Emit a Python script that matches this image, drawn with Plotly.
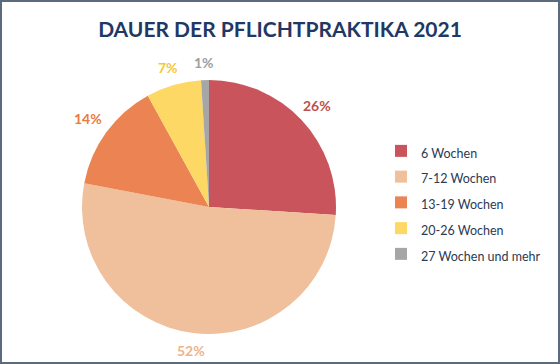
import math
import plotly.graph_objects as go

categories = ["6 Wochen", "7-12 Wochen", "13-19 Wochen", "20-26 Wochen", "27 Wochen und mehr"]
values = [26, 52, 14, 7, 1]
slice_colors = ["#C9545B", "#F0BF9B", "#EB8452", "#FDD865", "#A6A6A6"]
label_colors = ["#C0504D", "#EDB48C", "#E97A40", "#F5C836", "#9E9E9E"]

W, H = 560, 364
cx, cy, r = 209, 207, 127

FONT = "Lato"
LBL_SIZE = 14

fig = go.Figure(go.Pie(
    labels=[f'<span style="font-size:12.5px">{c}</span>' for c in categories],
    values=values,
    sort=False,
    direction="clockwise",
    rotation=0,
    marker=dict(colors=slice_colors, line=dict(color="white", width=0)),
    textinfo="none",
    domain=dict(x=[(cx - r) / W, (cx + r) / W], y=[(H - cy - r) / H, (H - cy + r) / H]),
    hovertemplate="%{label}: %{percent}<extra></extra>",
))

# data labels placed just outside each slice, at its mid-angle
total = sum(values)
annotations = []
cum = 0
gap = 11
for v, col in zip(values, label_colors):
    mid = (cum + v / 2) / total * 2 * math.pi
    cum += v
    dx, dy = math.sin(mid), -math.cos(mid)
    txt = f"{round(100 * v / total)}%"
    w = len(txt) * LBL_SIZE * 0.6
    h = LBL_SIZE * 1.0
    t = min((w / 2) / max(abs(dx), 1e-6), (h / 2) / max(abs(dy), 1e-6))
    d = r + gap + t
    px, py = cx + dx * d, cy + dy * d
    annotations.append(dict(
        x=px / W, y=1 - py / H, xref="paper", yref="paper",
        text=f"<b>{txt}</b>", showarrow=False, xanchor="center", yanchor="middle",
        font=dict(family=FONT, size=LBL_SIZE, color=col),
    ))

fig.update_layout(
    width=W, height=H,
    margin=dict(l=0, r=0, t=0, b=0),
    paper_bgcolor="white",
    title=dict(text="<b>DAUER DER PFLICHTPRAKTIKA 2021</b>", x=0.5, xanchor="center",
               y=1 - 30 / H, yanchor="middle",
               font=dict(family=FONT, size=21, color="#1F3864")),
    legend=dict(x=381 / W, y=1 - 133 / H, xanchor="left", yanchor="top",
                font=dict(family=FONT, size=17.5, color="#2B3A55"),
                itemwidth=30, bgcolor="rgba(0,0,0,0)"),
    showlegend=True,
    annotations=annotations,
    shapes=[dict(type="rect", xref="paper", yref="paper",
                 x0=1 / W, y0=1 / H, x1=1 - 1 / W, y1=1 - 1 / H,
                 line=dict(color="#5B6B7C", width=2))],
)

fig.write_html("out.html", config={"displayModeBar": False},
               post_script="document.body.style.margin='0';document.body.style.overflow='hidden';")
